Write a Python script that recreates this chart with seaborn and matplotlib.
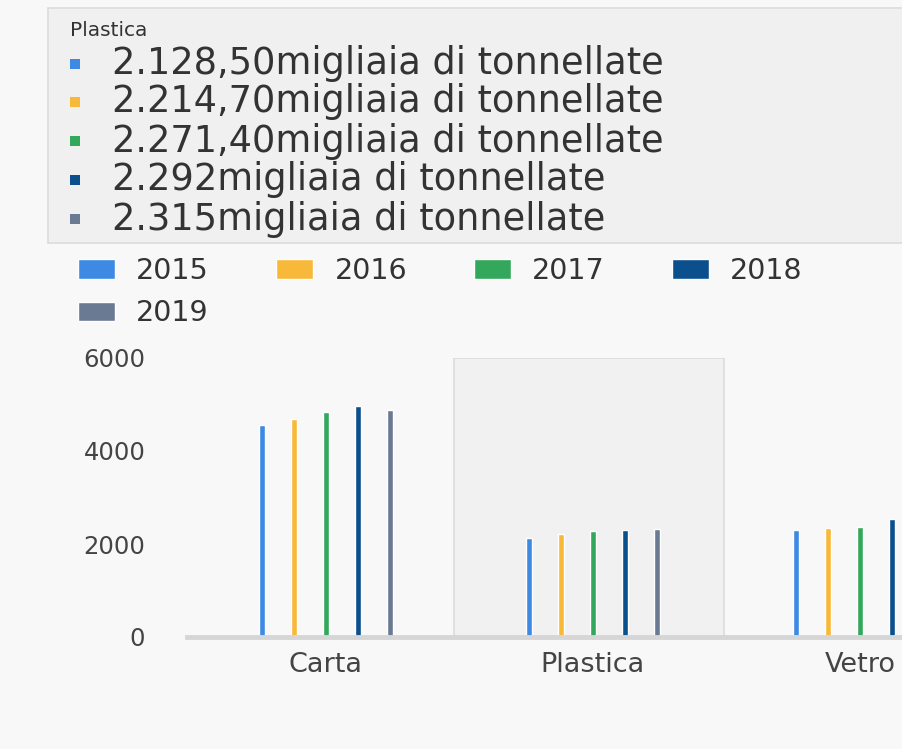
import pandas as pd
import matplotlib.pyplot as plt
import seaborn as sns
from matplotlib.patches import Rectangle

# data
categories = ["Carta", "Plastica", "Vetro"]
years = ["2015", "2016", "2017", "2018", "2019"]
carta = [4550, 4690, 4830, 4960, 4880]
plastica = [2128.5, 2214.7, 2271.4, 2292, 2315]
vetro = [2300, 2340, 2370, 2545, 2560]
colors = ["#3d89e3", "#f8b93b", "#33a75b", "#0c4f8d", "#6a7a92"]
yticks = [0, 2000, 4000, 6000]
tooltip_title = "Plastica"
unit = "migliaia di tonnellate"


def fmt_it(v):
    # italian number format: 2.128,50 / 2.292
    if float(v).is_integer():
        return f"{int(v):,}".replace(",", ".")
    s = f"{v:,.2f}"
    return s.replace(",", "X").replace(".", ",").replace("X", ".")


rows = []
for cat, vals in zip(categories, [carta, plastica, vetro]):
    for y, v in zip(years, vals):
        rows.append({"categoria": cat, "anno": y, "valore": v})
df = pd.DataFrame(rows)

sns.set_theme(style="white")
plt.rcParams["font.family"] = ["DejaVu Sans"]

bg = "#f8f8f8"
fig = plt.figure(figsize=(9.02, 7.49), dpi=100, facecolor=bg)
ax = fig.add_axes([187 / 902, 1 - 637 / 749, 1 - 187 / 902, (637 - 358) / 749])
ax.set_facecolor(bg)

# highlighted category band
ax.axvspan(0.48, 1.49, facecolor="#f1f1f1", edgecolor="#dcdcdc", lw=1.2, zorder=0)

sns.barplot(data=df, x="categoria", y="valore", hue="anno", palette=colors,
            width=0.6, gap=0.83, saturation=1, ax=ax, zorder=2)

ax.set_xlim(-0.52, 2.157)
ax.set_ylim(0, 6000)
ax.set_yticks(yticks)
ax.set_xlabel("")
ax.set_ylabel("")
for s in ["top", "right", "left"]:
    ax.spines[s].set_visible(False)
ax.spines["bottom"].set_color("#d6d6d6")
ax.spines["bottom"].set_linewidth(3.5)
ax.spines["bottom"].set_zorder(3)
ax.tick_params(axis="y", length=0, pad=30, labelsize=17.5, labelcolor="#444444")
ax.tick_params(axis="x", length=0, pad=11, labelsize=19.5, labelcolor="#444444")
ax.grid(False)

# series legend above the plot, row-major order
handles, labels = ax.get_legend_handles_labels()
ax.get_legend().remove()
order = [0, 4, 1, 2, 3]
fig.legend([handles[i] for i in order], [labels[i] for i in order],
           loc="upper left", bbox_to_anchor=(78 / 902, 1 - 257 / 749),
           borderaxespad=0, borderpad=0,
           ncol=4, frameon=False, fontsize=20.5, handlelength=1.3,
           handleheight=0.65, handletextpad=0.75, columnspacing=2.35,
           labelspacing=0.5, labelcolor="#333333")

# tooltip box at the top
fig.patches.append(Rectangle((48 / 902, 1 - 243 / 749), 1, 235 / 749,
                             transform=fig.transFigure, facecolor="#f0f0f0",
                             edgecolor="#dcdcdc", lw=1.2, zorder=0))
fig.text(70 / 902, 1 - 31 / 749, tooltip_title, fontsize=14.5, color="#333333",
         va="center", ha="left")
row_y = [64, 102, 141, 180, 219]
for v, c, yy in zip(plastica, colors, row_y):
    fig.patches.append(Rectangle((70 / 902, 1 - (yy + 5) / 749), 10 / 902, 10 / 749,
                                 transform=fig.transFigure, facecolor=c, lw=0, zorder=1))
    fig.text(112 / 902, 1 - yy / 749, fmt_it(v) + unit, fontsize=26.5,
             color="#333333", va="center", ha="left")

fig.savefig("out.png", dpi=100, facecolor=bg)
